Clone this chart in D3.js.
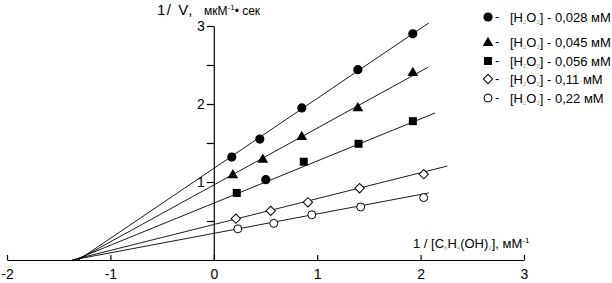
<!DOCTYPE html>
<html lang="ru">
<head>
<meta charset="utf-8">
<title>Lineweaver-Burk</title>
<script src="https://cdn.jsdelivr.net/npm/d3@7"></script>
<style>
  body { margin: 0; background: #fff; }
  svg { display: block; font-family: "Liberation Sans", Arial, sans-serif; }
</style>
</head>
<body>
<svg width="612" height="283"></svg>
<script>
// concentrations H2O2 (legend)
const concLabels = ["0,028 мМ", "0,045 мМ", "0,056 мМ", "0,11 мМ", "0,22 мМ"];
const markers = ["circle", "triangle", "square", "diamond", "ocircle"];

// points: 1/[S] (x) and 1/V (y)
const xFilledCircle = [0.174, 0.445, 0.851, 1.393, 1.925];
const yFilledCircle = [1.32, 1.55, 1.95, 2.44, 2.90];
const xTriangle = [0.184, 0.474, 0.851, 1.393, 1.925];
const yTriangle = [1.10, 1.30, 1.59, 1.96, 2.41];
const xSquare = [0.222, 0.503, 0.870, 1.400, 1.925];
const ySquare = [0.86, 1.03, 1.26, 1.49, 1.78];
const xDiamond = [0.213, 0.550, 0.910, 1.410, 2.030];
const yDiamond = [0.53, 0.63, 0.74, 0.92, 1.10];
const xOpenCircle = [0.232, 0.580, 0.948, 1.420, 2.030];
const yOpenCircle = [0.40, 0.47, 0.58, 0.68, 0.80];

// fitted lines: start on the x axis, end points per series
const lineStartX = [-1.31, -1.32, -1.35, -1.37, -1.37];
const lineEndX = [2.08, 2.07, 2.14, 2.26, 2.08];
const lineEndY = [3.04, 2.47, 1.885, 1.205, 0.86];

const xTicks = [-2, -1, 0, 1, 2, 3];
const yTicks = [0.5, 1, 1.5, 2, 2.5, 3];

const allX = [xFilledCircle, xTriangle, xSquare, xDiamond, xOpenCircle];
const allY = [yFilledCircle, yTriangle, ySquare, yDiamond, yOpenCircle];

const svg = d3.select("svg");

const x = d3.scaleLinear().domain([-2, 3]).range([7, 524]);
const y = d3.scaleLinear().domain([0, 3]).range([260, 26]);

// x axis: ticks up, labels below
const gx = svg.append("g")
    .attr("transform", "translate(0," + y(0) + ")")
    .call(d3.axisBottom(x).tickValues(xTicks).tickSize(-5).tickSizeOuter(0)
        .tickPadding(9).tickFormat(d => String(d)));

// y axis
const gy = svg.append("g")
    .attr("transform", "translate(" + x(0) + ",0)")
    .call(d3.axisLeft(y).tickValues(yTicks).tickSize(7).tickSizeOuter(0)
        .tickPadding(2).tickFormat(d => Number.isInteger(d) ? String(d) : ""));

[gx, gy].forEach(g => {
  g.selectAll("path, line").attr("stroke", "#000").attr("stroke-width", 1.2);
  g.selectAll("text").attr("fill", "#000").style("font-size", "14px")
   .style("font-family", "'Liberation Sans', Arial, sans-serif");
});

// fitted lines
const line = d3.line().x(d => x(d[0])).y(d => y(d[1]));
lineEndX.forEach((ex, i) => {
  svg.append("path")
      .attr("d", line([[lineStartX[i], 0], [ex, lineEndY[i]]]))
      .attr("fill", "none")
      .attr("stroke", "#000")
      .attr("stroke-width", 0.9);
});

// marker drawing
function drawMarker(g, kind, cx, cy) {
  if (kind === "circle") {
    g.append("circle").attr("cx", cx).attr("cy", cy).attr("r", 4.6).attr("fill", "#000");
  } else if (kind === "ocircle") {
    g.append("circle").attr("cx", cx).attr("cy", cy).attr("r", 4)
        .attr("fill", "#fff").attr("stroke", "#000").attr("stroke-width", 1);
  } else if (kind === "triangle") {
    g.append("path").attr("transform", "translate(" + cx + "," + (cy + 1) + ")")
        .attr("d", d3.symbol(d3.symbolTriangle, 50)()).attr("fill", "#000");
  } else if (kind === "square") {
    g.append("rect").attr("x", cx - 4).attr("y", cy - 4).attr("width", 8).attr("height", 8)
        .attr("fill", "#000");
  } else if (kind === "diamond") {
    g.append("path").attr("transform", "translate(" + cx + "," + cy + ") rotate(45)")
        .attr("d", d3.symbol(d3.symbolSquare, 44)())
        .attr("fill", "#fff").attr("stroke", "#000").attr("stroke-width", 1);
  }
}

const gPts = svg.append("g");
allX.forEach((xs, i) => {
  xs.forEach((v, j) => {
    // the second point of the 0,056 series is drawn as a filled circle in the source
    let kind = markers[i];
    if (i === 2 && j === 1) kind = "circle";
    drawMarker(gPts, kind, x(v), y(allY[i][j]));
  });
});

// y title
const yt = svg.append("text").attr("x", 157).attr("y", 15).attr("fill", "#000")
    .style("font-size", "15px");
yt.append("tspan").style("letter-spacing", "1.5px").text("1/ V,");
yt.append("tspan").attr("x", 204).style("font-size", "12px").text("мкМ");
yt.append("tspan").attr("dy", -5).style("font-size", "8px").text("-1");
yt.append("tspan").attr("dy", 5).style("font-size", "12px").text("• сек");

// x title
const xt = svg.append("text").attr("x", 413).attr("y", 248).attr("fill", "#000")
    .style("font-size", "13px");
xt.append("tspan").text("1 / [C");
xt.append("tspan").attr("dy", 2).attr("fill", "#999").style("font-size", "6px").text("6");
xt.append("tspan").attr("dy", -2).text("H");
xt.append("tspan").attr("dy", 2).attr("fill", "#999").style("font-size", "6px").text("4");
xt.append("tspan").attr("dy", -2).text("(OH)");
xt.append("tspan").attr("dy", 2).attr("fill", "#999").style("font-size", "6px").text("2");
xt.append("tspan").attr("dy", -2).text("], мМ");
xt.append("tspan").attr("dy", -5).style("font-size", "8px").text("-1");

// legend
const legendY = [17, 42, 61, 79, 98];
concLabels.forEach((lab, i) => {
  const g = svg.append("g");
  drawMarker(g, markers[i], 488, legendY[i]);
  g.append("text").attr("x", 495).attr("y", legendY[i] + 4).attr("fill", "#000")
      .style("font-size", "13px").text("-");
  const t = g.append("text").attr("x", 510).attr("y", legendY[i] + 5).attr("fill", "#000")
      .style("font-size", "13px");
  t.append("tspan").text("[H");
  t.append("tspan").attr("dy", 2).attr("fill", "#999").style("font-size", "6px").text("2");
  t.append("tspan").attr("dy", -2).text("O");
  t.append("tspan").attr("dy", 2).attr("fill", "#999").style("font-size", "6px").text("2");
  t.append("tspan").attr("dy", -2).text("] - " + lab);
});
</script>
</body>
</html>
